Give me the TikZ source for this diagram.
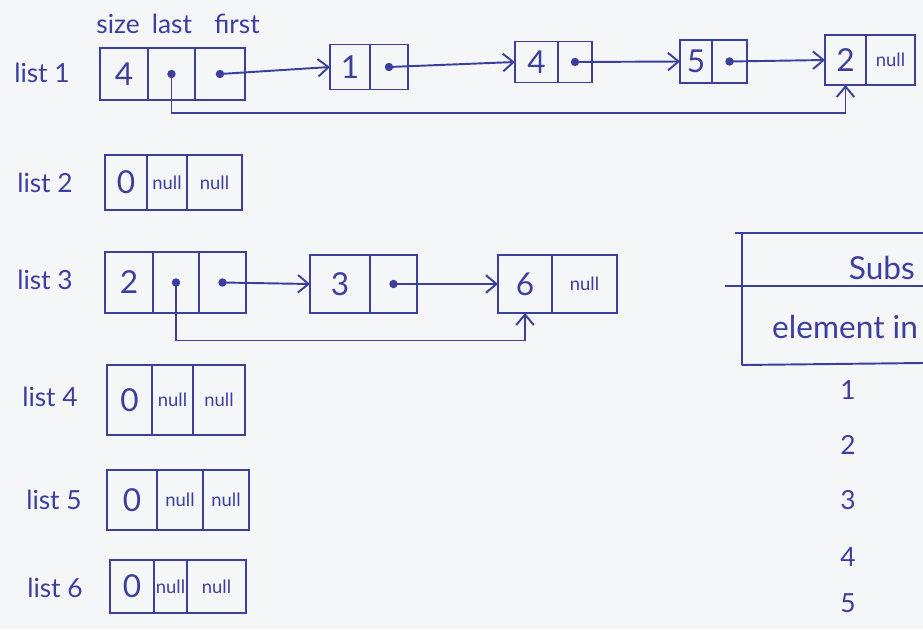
\documentclass[tikz,border=0pt]{standalone}
\usepackage{fontspec}
\setmainfont{Lato}
\usetikzlibrary{arrows.meta,positioning}
\definecolor{ink}{HTML}{3D3F9E}
\definecolor{paper}{HTML}{F4F6F8}

\begin{document}
\begin{tikzpicture}[
  x=0.02cm, y=-0.02cm,
  font=\fontsize{18}{20}\selectfont,
  cell/.style={draw=ink,text=ink,line width=1.1pt,
    inner sep=0pt,outer sep=0pt},
  nul/.style={cell,font=\fontsize{10.5}{12}\selectfont},
  lbl/.style={text=ink,font=\fontsize{15}{16}\selectfont},
  big/.style={text=ink,font=\fontsize{18}{20}\selectfont},
  ptr/.style={-{Straight Barb[length=6pt,width=10pt]},ink,line width=1.1pt},
  rule/.style={ink,line width=1.1pt}
]
  % Sheet
  \useasboundingbox (0,0) rectangle (923,629);
  \clip (0,0) rectangle (923,629);
  \fill[paper] (0,0) rectangle (923,629);

  % Field names over the first head
  \node[lbl] (hsize)  at (118,24) {size};
  \node[lbl] (hlast)  at (172,24) {last};
  \node[lbl] (hfirst) at (237,24) {first};

  % list 1
  \node[lbl] (name1) at (42,73) {list 1};
  \begin{scope}[minimum height=1.04cm]
    \node[cell,minimum width=0.96cm] (size1) at (124,74) {4};
    \node[cell,minimum width=0.94cm,right=0pt of size1] (last1) {};
    \node[cell,minimum width=1.0cm,right=0pt of last1] (first1) {};
  \end{scope}
  \begin{scope}[minimum height=0.9cm]
    \node[cell,minimum width=0.8cm] (l1n1) at (350,67) {1};
    \node[cell,minimum width=0.76cm,right=0pt of l1n1] (l1n1p) {};
  \end{scope}
  \begin{scope}[minimum height=0.82cm]
    \node[cell,minimum width=0.86cm] (l1n2) at (536.5,62) {4};
    \node[cell,minimum width=0.68cm,right=0pt of l1n2] (l1n2p) {};
  \end{scope}
  \begin{scope}[minimum height=0.86cm]
    \node[cell,minimum width=0.64cm] (l1n3) at (696,61.5) {5};
    \node[cell,minimum width=0.7cm,right=0pt of l1n3] (l1n3p) {};
  \end{scope}
  \begin{scope}[minimum height=1.0cm]
    \node[cell,minimum width=0.82cm] (l1n4) at (845.5,60) {2};
    \node[nul,minimum width=0.98cm,right=0pt of l1n4] (l1n4p) {null};
  \end{scope}
  \foreach \p in {last1,first1,l1n1p,l1n2p,l1n3p}
    \fill[ink] (\p) circle (2.4pt);
  \draw[ptr] (first1.center) -- (l1n1.west);
  \draw[ptr] (l1n1p.center) -- (l1n2.west);
  \draw[ptr] (l1n2p.center) -- (l1n3.west);
  \draw[ptr] (l1n3p.center) -- (l1n4.west);
  \draw[ptr] (last1.center) -- ++(0,39) -| (l1n4.south);

  % list 2 (empty)
  \node[lbl] (name2) at (45,183) {list 2};
  \begin{scope}[minimum height=1.1cm]
    \node[cell,minimum width=0.84cm] (size2) at (126,182.5) {0};
    \node[nul,minimum width=0.8cm,right=0pt of size2] (last2) {null};
    \node[nul,minimum width=1.1cm,right=0pt of last2] (first2) {null};
  \end{scope}

  % list 3
  \node[lbl] (name3) at (45,280) {list 3};
  \begin{scope}[minimum height=1.22cm]
    \node[cell,minimum width=0.96cm] (size3) at (129,282.5) {2};
    \node[cell,minimum width=0.92cm,right=0pt of size3] (last3) {};
    \node[cell,minimum width=0.94cm,right=0pt of last3] (first3) {};
  \end{scope}
  \begin{scope}[minimum height=1.16cm]
    \node[cell,minimum width=1.2cm] (l3n1) at (340,284) {3};
    \node[cell,minimum width=0.94cm,right=0pt of l3n1] (l3n1p) {};
    \node[cell,minimum width=1.08cm] (l3n2) at (525,284) {6};
    \node[nul,minimum width=1.3cm,right=0pt of l3n2] (l3n2p) {null};
  \end{scope}
  \foreach \p in {last3,first3,l3n1p}
    \fill[ink] (\p) circle (2.4pt);
  \draw[ptr] (first3.center) -- (l3n1.west);
  \draw[ptr] (l3n1p.center) -- (l3n2.west);
  \draw[ptr] (last3.center) -- ++(0,58) -| (l3n2.south);

  % lists 4 to 6 (empty)
  \node[lbl] (name4) at (50,397) {list 4};
  \begin{scope}[minimum height=1.4cm]
    \node[cell,minimum width=0.9cm] (size4) at (129.5,400) {0};
    \node[nul,minimum width=0.82cm,right=0pt of size4] (last4) {null};
    \node[nul,minimum width=1.04cm,right=0pt of last4] (first4) {null};
  \end{scope}
  \node[lbl] (name5) at (54,500) {list 5};
  \begin{scope}[minimum height=1.2cm]
    \node[cell,minimum width=1.0cm] (size5) at (132,500) {0};
    \node[nul,minimum width=0.92cm,right=0pt of size5] (last5) {null};
    \node[nul,minimum width=0.92cm,right=0pt of last5] (first5) {null};
  \end{scope}
  \node[lbl] (name6) at (55,588) {list 6};
  \begin{scope}[minimum height=1.06cm]
    \node[cell,minimum width=0.88cm] (size6) at (132,586.5) {0};
    \node[nul,minimum width=0.66cm,right=0pt of size6] (last6) {null};
    \node[nul,minimum width=1.18cm,right=0pt of last6] (first6) {null};
  \end{scope}

  % Subset table on the right
  \draw[rule] (735,233) -- (923,233);
  \draw[rule] (742,233) -- (742,365);
  \draw[rule] (725,286) -- (923,286);
  \draw[rule] (742,365) -- (923,363);
  \node[big,anchor=east] (subs) at (921,268) {Subs};
  \node[big,anchor=west] (elem) at (766,327) {element in};
  \foreach \k/\y in {1/390,2/445,3/500,4/557,5/603}
    \node[lbl] (idx\k) at (848,\y) {\k};
\end{tikzpicture}
\end{document}
